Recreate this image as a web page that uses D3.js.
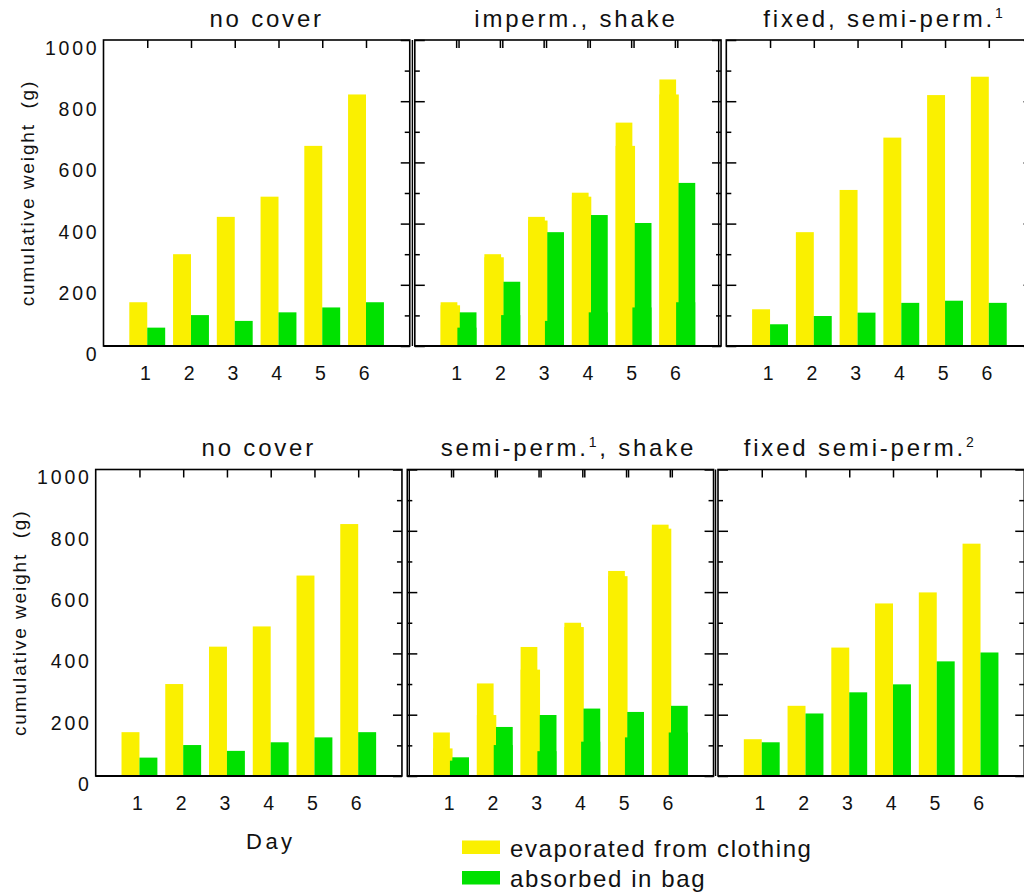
<!DOCTYPE html>
<html>
<head>
<meta charset="utf-8">
<script src="https://cdn.jsdelivr.net/npm/d3@7"></script>
<style>
    body { margin: 0; background: #fff; }
    svg { font-family: "Liberation Sans", Arial, Helvetica, sans-serif; fill: #111; }
    .tick-label { font-size: 19.5px; letter-spacing: 2.8px; }
    .panel-title { font-size: 24px; letter-spacing: 2.8px; }
    .axis-title { font-size: 19px; letter-spacing: 1.9px; white-space: pre; }
    .day-title { font-size: 22px; letter-spacing: 3.5px; }
    .legend-text { font-size: 24px; letter-spacing: 1.6px; }
</style>
</head>
<body>
<div id="chart"></div>
<script>
// days on the x axis
const days = [1, 2, 3, 4, 5, 6];
const yMajor = [0, 200, 400, 600, 800, 1000];
const yMinor = [100, 300, 500, 700, 900];

// cumulative weight (g): evaporated from clothing / absorbed in bag
const noCoverEvap = [143, 300, 422, 488, 654, 822];
const noCoverBag = [60, 101, 82, 110, 126, 143];

const impermShakeEvap = [143, 300, 422, 501, 730, 871];
const impermShakeBag = [110, 210, 372, 428, 402, 533];
// faint bars showing through behind the "imperm., shake" bars
const impermShakeEchoEvap = [133, 290, 410, 488, 654, 822];
const impermShakeEchoBag = [60, 101, 82, 110, 126, 143];

const fixedSemi1Evap = [120, 372, 510, 681, 820, 880];
const fixedSemi1Bag = [71, 98, 109, 141, 148, 141];

const semi1ShakeEvap = [142, 302, 421, 500, 669, 820];
const semi1ShakeBag = [61, 160, 199, 220, 209, 229];
// faint bars showing through behind the "semi-perm.1, shake" bars
const semi1ShakeEchoEvap = [90, 199, 347, 486, 652, 807];
const semi1ShakeEchoBag = [50, 101, 81, 112, 126, 142];

const fixedSemi2Evap = [120, 229, 419, 563, 599, 758];
const fixedSemi2Bag = [110, 204, 273, 299, 374, 403];

const seriesNames = ["evaporated from clothing", "absorbed in bag"];
const colors = ["rgb(250,240,0)", "rgb(0,225,0)"];

const width = 1024;
const height = 895;
const step = 43.75;          // one day on the x axis
const rows = [
    { yTop: 40, yBottom: 346 },
    { yTop: 469.5, yBottom: 776 }
];

const panels = [
    { title: "no cover", evap: noCoverEvap, bag: noCoverBag, row: 0, x0: 103.5, titleDx: 10, yLabels: true },
    { title: "imperm., shake", evap: impermShakeEvap, bag: impermShakeBag,
      echoEvap: impermShakeEchoEvap, echoBag: impermShakeEchoBag, frameEcho: -2.4,
      row: 0, x0: 414.8, titleDx: 8, leftTicks: true },
    { title: "fixed, semi-perm.", sup: "1", evap: fixedSemi1Evap, bag: fixedSemi1Bag,
      row: 0, x0: 726.3, titleDx: 5, leftTicks: true },
    { title: "no cover", evap: noCoverEvap, bag: noCoverBag, row: 1, x0: 95.7, titleDx: 10, yLabels: true, dayTitle: true },
    { title: "semi-perm.", sup: "1", after: ", shake", evap: semi1ShakeEvap, bag: semi1ShakeBag,
      echoEvap: semi1ShakeEchoEvap, echoBag: semi1ShakeEchoBag, frameEcho: 2,
      row: 1, x0: 407.3, titleDx: 8, leftTicks: true },
    { title: "fixed semi-perm.", sup: "2", evap: fixedSemi2Evap, bag: fixedSemi2Bag,
      row: 1, x0: 718, titleDx: -11, leftTicks: true }
];

const svg = d3.select("#chart")
    .append("svg")
    .attr("width", width)
    .attr("height", height);

function cleanAxis(g) {
    g.attr("font-size", null).attr("font-family", null);
    g.select(".domain").remove();
    g.selectAll(".tick line").attr("stroke", "#000").attr("stroke-width", 1.5);
}

function drawPanel(p) {
    const row = rows[p.row];
    const x1 = p.x0 + step * 7;
    const x = d3.scaleLinear().domain([0, 7]).range([p.x0, x1]);
    const y = d3.scaleLinear().domain([0, 1000]).range([row.yBottom, row.yTop]);
    const bw = step * 0.41;
    const gap = p.echoEvap ? 2.4 : 0;

    const g = svg.append("g").attr("class", "panel");
    const data = days.map((d, i) => ({ day: d, evap: p.evap[i], bag: p.bag[i] }));

    // bars showing through the gap between the pairs (only in the "shake" panels)
    if (p.echoEvap) {
        const echo = days.map((d, i) => ({ day: d, evap: p.echoEvap[i], bag: p.echoBag[i] }));
        g.selectAll(".echo-evap")
            .data(echo)
            .join("rect")
            .attr("class", "echo-evap")
            .attr("x", d => x(d.day) - bw)
            .attr("width", bw + 1.5)
            .attr("y", d => y(d.evap))
            .attr("height", d => y(0) - y(d.evap))
            .attr("fill", colors[0]);
        g.selectAll(".echo-bag")
            .data(echo)
            .join("rect")
            .attr("class", "echo-bag")
            .attr("x", d => x(d.day) - 1.5)
            .attr("width", bw + 1.5)
            .attr("y", d => y(d.bag))
            .attr("height", d => y(0) - y(d.bag))
            .attr("fill", colors[1]);
    }

    g.selectAll(".bar-evap")
        .data(data)
        .join("rect")
        .attr("class", "bar-evap")
        .attr("x", d => x(d.day) - bw)
        .attr("width", bw - gap / 2)
        .attr("y", d => y(d.evap))
        .attr("height", d => y(0) - y(d.evap))
        .attr("fill", colors[0]);

    g.selectAll(".bar-bag")
        .data(data)
        .join("rect")
        .attr("class", "bar-bag")
        .attr("x", d => x(d.day) + gap / 2)
        .attr("width", bw - gap / 2)
        .attr("y", d => y(d.bag))
        .attr("height", d => y(0) - y(d.bag))
        .attr("fill", colors[1]);

    // frame
    g.append("rect")
        .attr("x", p.x0)
        .attr("y", row.yTop)
        .attr("width", x1 - p.x0)
        .attr("height", row.yBottom - row.yTop)
        .attr("fill", "none")
        .attr("stroke", "#000")
        .attr("stroke-width", 1.6);
    g.append("line")
        .attr("x1", p.x0).attr("x2", x1)
        .attr("y1", row.yBottom).attr("y2", row.yBottom)
        .attr("stroke", "#000")
        .attr("stroke-width", 2.2);

    // doubled frame sides in the pasted-over panels
    if (p.frameEcho) {
        [p.x0, x1].forEach(xx => {
            g.append("line")
                .attr("x1", xx + p.frameEcho).attr("x2", xx + p.frameEcho)
                .attr("y1", row.yTop).attr("y2", row.yBottom)
                .attr("stroke", "#000")
                .attr("stroke-width", 1.4);
        });
        g.append("g")
            .attr("transform", `translate(${p.frameEcho},${row.yTop})`)
            .call(d3.axisBottom(x).tickValues(days).tickSize(8).tickFormat(""))
            .call(cleanAxis);
    }

    // top ticks at each day
    g.append("g")
        .attr("transform", `translate(0,${row.yTop})`)
        .call(d3.axisBottom(x).tickValues(days).tickSize(8).tickFormat(""))
        .call(cleanAxis);

    // right axis ticks, pointing in
    g.append("g")
        .attr("transform", `translate(${x1},0)`)
        .call(d3.axisLeft(y).tickValues(yMajor).tickSize(9).tickFormat(""))
        .call(cleanAxis);
    g.append("g")
        .attr("transform", `translate(${x1},0)`)
        .call(d3.axisLeft(y).tickValues(yMinor).tickSize(5).tickFormat(""))
        .call(cleanAxis);

    if (p.leftTicks) {
        g.append("g")
            .attr("transform", `translate(${p.x0},0)`)
            .call(d3.axisRight(y).tickValues(yMajor).tickSize(10).tickFormat(""))
            .call(cleanAxis);
        g.append("g")
            .attr("transform", `translate(${p.x0},0)`)
            .call(d3.axisRight(y).tickValues(yMinor).tickSize(5).tickFormat(""))
            .call(cleanAxis);
    }

    // day labels under the axis
    const xl = g.append("g")
        .attr("transform", `translate(0,${row.yBottom})`)
        .call(d3.axisBottom(x).tickValues(days).tickSize(0).tickPadding(20).tickFormat(d3.format("d")))
        .call(cleanAxis);
    xl.selectAll("text").attr("class", "tick-label").attr("dx", -1).attr("fill", "#111");

    if (p.yLabels) {
        const yl = g.append("g")
            .attr("transform", `translate(${p.x0},0)`)
            .call(d3.axisLeft(y).tickValues(yMajor).tickSize(0).tickPadding(4).tickFormat(d3.format("d")))
            .call(cleanAxis);
        yl.selectAll("text").attr("class", "tick-label").attr("dy", "0.74em").attr("fill", "#111");

        svg.append("text")
            .attr("class", "axis-title")
            .attr("transform", `translate(${p.x0 - 70},${(row.yTop + row.yBottom) / 2}) rotate(-90)`)
            .attr("text-anchor", "middle")
            .text("cumulative weight  (g)");
    }

    // panel title, with superscript where needed
    const t = svg.append("text")
        .attr("class", "panel-title")
        .attr("x", (p.x0 + x1) / 2 + p.titleDx)
        .attr("y", row.yTop - 13.5)
        .attr("text-anchor", "middle");
    t.append("tspan").text(p.title);
    if (p.sup) {
        t.append("tspan").attr("dy", -9).style("font-size", "14px").text(p.sup);
        if (p.after) t.append("tspan").attr("dy", 9).text(p.after);
    }

    if (p.dayTitle) {
        svg.append("text")
            .attr("class", "day-title")
            .attr("x", (p.x0 + x1) / 2 + 22)
            .attr("y", row.yBottom + 72.5)
            .attr("text-anchor", "middle")
            .text("Day");
    }
}

panels.forEach(drawPanel);

// legend
const legend = svg.append("g")
    .attr("transform", "translate(462,840.5)")
    .selectAll("g")
    .data(seriesNames)
    .join("g")
    .attr("transform", (d, i) => `translate(0,${i * 30.5})`);

legend.append("rect")
    .attr("width", 38)
    .attr("height", 13.5)
    .attr("fill", (d, i) => colors[i]);

legend.append("text")
    .attr("class", "legend-text")
    .attr("x", 48)
    .attr("y", 16)
    .text(d => d);
</script>
</body>
</html>
